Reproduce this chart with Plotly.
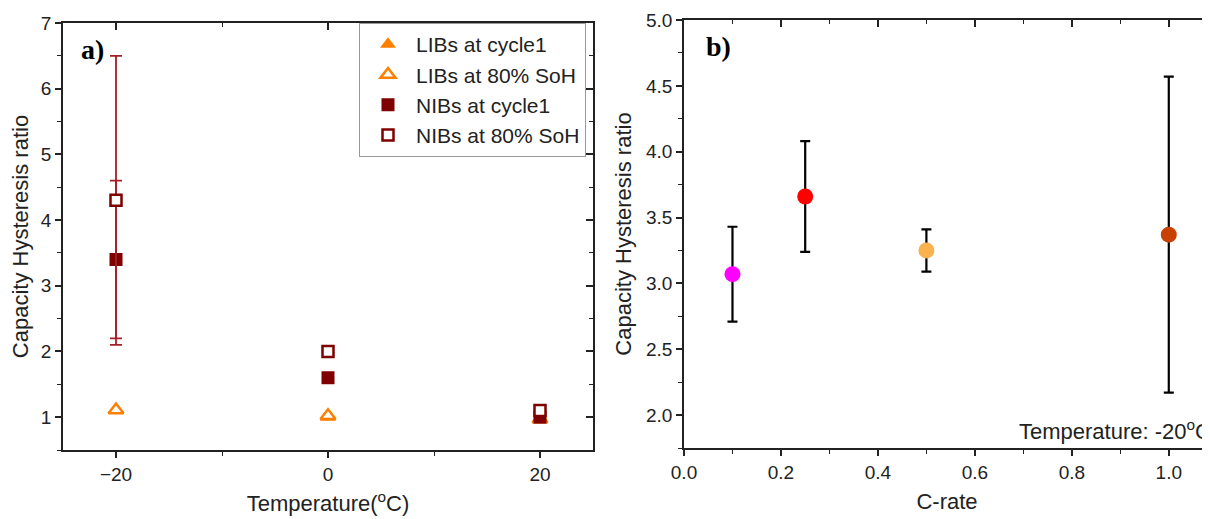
import plotly.graph_objects as go

# ---------------- data ----------------
temps = [-20, 0, 20]
libs_cycle1 = [1.10, 1.00, 0.96]
libs_soh80 = [1.11, 1.02, 0.97]
nibs_cycle1 = [3.40, 1.60, 1.00]
nibs_cycle1_err = [1.20, None, None]
nibs_soh80 = [4.30, 2.00, 1.10]
nibs_soh80_err = [2.20, None, None]

crate = [0.1, 0.25, 0.5, 1.0]
crate_ratio = [3.07, 3.66, 3.25, 3.37]
crate_err_plus = [0.36, 0.42, 0.16, 1.20]
crate_err_minus = [0.36, 0.42, 0.16, 1.20]
crate_colors = ["#FF00FF", "#FF0000", "#F9B24D", "#C94100"]

FONT = "Arial, Liberation Sans, sans-serif"
AXC = "#222222"
ORANGE = "#FF8000"
MAROON = "#7F0000"
ERRRED = "#A3202A"

fig = go.Figure()

# ---------- panel a ----------
fig.add_trace(go.Scatter(x=temps, y=libs_cycle1, mode="markers", name="LIBs at cycle1",
                         marker=dict(symbol="triangle-up", size=14, color=ORANGE,
                                     line=dict(width=0)),
                         xaxis="x", yaxis="y"))
fig.add_trace(go.Scatter(x=temps, y=libs_soh80, mode="markers", name="LIBs at 80% SoH",
                         marker=dict(symbol="triangle-up", size=13, color="white",
                                     line=dict(width=2.5, color=ORANGE)),
                         xaxis="x", yaxis="y"))
fig.add_trace(go.Scatter(x=temps, y=nibs_cycle1, mode="markers", name="NIBs at cycle1",
                         marker=dict(symbol="square", size=13, color=MAROON,
                                     line=dict(width=0)),
                         error_y=dict(type="data", array=nibs_cycle1_err, color=ERRRED,
                                      thickness=1.8, width=6),
                         xaxis="x", yaxis="y"))
fig.add_trace(go.Scatter(x=temps, y=nibs_soh80, mode="markers", name="NIBs at 80% SoH",
                         marker=dict(symbol="square", size=11, color="white",
                                     line=dict(width=2.5, color=MAROON)),
                         error_y=dict(type="data", array=nibs_soh80_err, color=ERRRED,
                                      thickness=1.8, width=6),
                         xaxis="x", yaxis="y"))

# ---------- panel b ----------
fig.add_trace(go.Scatter(x=crate, y=crate_ratio, mode="markers", showlegend=False,
                         marker=dict(symbol="circle", size=16, color=crate_colors,
                                     line=dict(width=0)),
                         error_y=dict(type="data", symmetric=False, array=crate_err_plus,
                                      arrayminus=crate_err_minus, color="black",
                                      thickness=2.2, width=5),
                         xaxis="x2", yaxis="y2"))

# dummy traces for mirrored (inward-tick) axes
fig.add_trace(go.Scatter(x=[None], y=[None], showlegend=False, hoverinfo="skip",
                         xaxis="x3", yaxis="y3"))
fig.add_trace(go.Scatter(x=[None], y=[None], showlegend=False, hoverinfo="skip",
                         xaxis="x4", yaxis="y4"))

W, H = 1210, 519
OFF = 8  # page body margin offset
def px(x):
    return (x - OFF) / W
def py(y):
    return 1 - (y - OFF) / H

ax_a = [px(63), px(593)]
ay_a = [py(450), py(23)]
ax_b = [px(684), px(1210)]
ay_b = [py(448), py(20)]

xr_a = [-25, 25]
yr_a = [0.5, 7]
xr_b = [0, 1.085]
yr_b = [1.75, 5.0]

tickfont = dict(family=FONT, size=19, color="#222")
titlefont = dict(family=FONT, size=22, color="#222")

def main_axis(domain, rng, dtick, tick0, minor_dtick, title, standoff, anchor):
    return dict(domain=domain, range=rng, anchor=anchor, dtick=dtick, tick0=tick0,
                automargin=False,
                ticks="outside", ticklen=6, tickwidth=1.5, tickcolor=AXC,
                minor=dict(dtick=minor_dtick, tick0=tick0, ticks="outside", ticklen=4,
                           tickwidth=1.2, tickcolor=AXC),
                showline=True, linecolor=AXC, linewidth=1.8, mirror=False,
                showgrid=False, zeroline=False, tickfont=tickfont,
                title=dict(text=title, font=titlefont, standoff=standoff))

def mirror_axis(domain, rng, dtick, tick0, minor_dtick, side, overlay, anchor):
    return dict(domain=domain, range=rng, anchor=anchor, overlaying=overlay, side=side,
                dtick=dtick, tick0=tick0, automargin=False,
                ticks="inside", ticklen=7, tickwidth=1.5, tickcolor=AXC,
                minor=dict(dtick=minor_dtick, tick0=tick0, ticks="inside", ticklen=4,
                           tickwidth=1.2, tickcolor=AXC),
                showline=True, linecolor=AXC, linewidth=1.8, showticklabels=False,
                showgrid=False, zeroline=False)

fig.update_layout(
    width=W, height=H,
    margin=dict(l=0, r=0, t=0, b=0, autoexpand=False),
    paper_bgcolor="white", plot_bgcolor="white",
    font=dict(family=FONT, color="#222"),
    xaxis=main_axis(ax_a, xr_a, 20, 0, 10, "Temperature(<sup>o</sup>C)", 12, "y"),
    yaxis=main_axis(ay_a, yr_a, 1, 0, 0.5, "Capacity Hysteresis ratio", 9, "x"),
    xaxis2=main_axis(ax_b, xr_b, 0.2, 0, 0.1, "C-rate", 12, "y2"),
    yaxis2=main_axis(ay_b, yr_b, 0.5, 0, 0.25, "Capacity Hysteresis ratio", 8, "x2"),
    xaxis3=mirror_axis(ax_a, xr_a, 20, 0, 10, "top", "x", "y3"),
    yaxis3=mirror_axis(ay_a, yr_a, 1, 0, 0.5, "right", "y", "x3"),
    xaxis4=mirror_axis(ax_b, xr_b, 0.2, 0, 0.1, "top", "x2", "y4"),
    yaxis4=mirror_axis(ay_b, yr_b, 0.5, 0, 0.25, "right", "y2", "x4"),
    legend=dict(x=px(359), y=py(23), xanchor="left", yanchor="top",
                bgcolor="white", bordercolor="#999999", borderwidth=1,
                font=dict(family=FONT, size=21, color="#222"),
                itemwidth=46, tracegroupgap=0),
    showlegend=True,
)
fig.update_layout(xaxis_tickformat="d")
fig.update_layout(xaxis2_tickformat=".1f", yaxis2_tickformat=".1f")

fig.add_annotation(text="<b>a)</b>", xref="paper", yref="paper", x=px(79), y=py(49),
                   xanchor="left", yanchor="middle", showarrow=False,
                   font=dict(family="Times New Roman, Liberation Serif, serif", size=28, color="black"))
fig.add_annotation(text="<b>b)</b>", xref="paper", yref="paper", x=px(704), y=py(46),
                   xanchor="left", yanchor="middle", showarrow=False,
                   font=dict(family="Times New Roman, Liberation Serif, serif", size=28, color="black"))
fig.add_annotation(text="Temperature: -20<sup>o</sup>C", xref="x2", yref="y2", x=0.687, y=1.89,
                   xanchor="left", yanchor="middle", showarrow=False,
                   font=dict(family=FONT, size=22, color="#222"))

fig.write_html("out.html")
